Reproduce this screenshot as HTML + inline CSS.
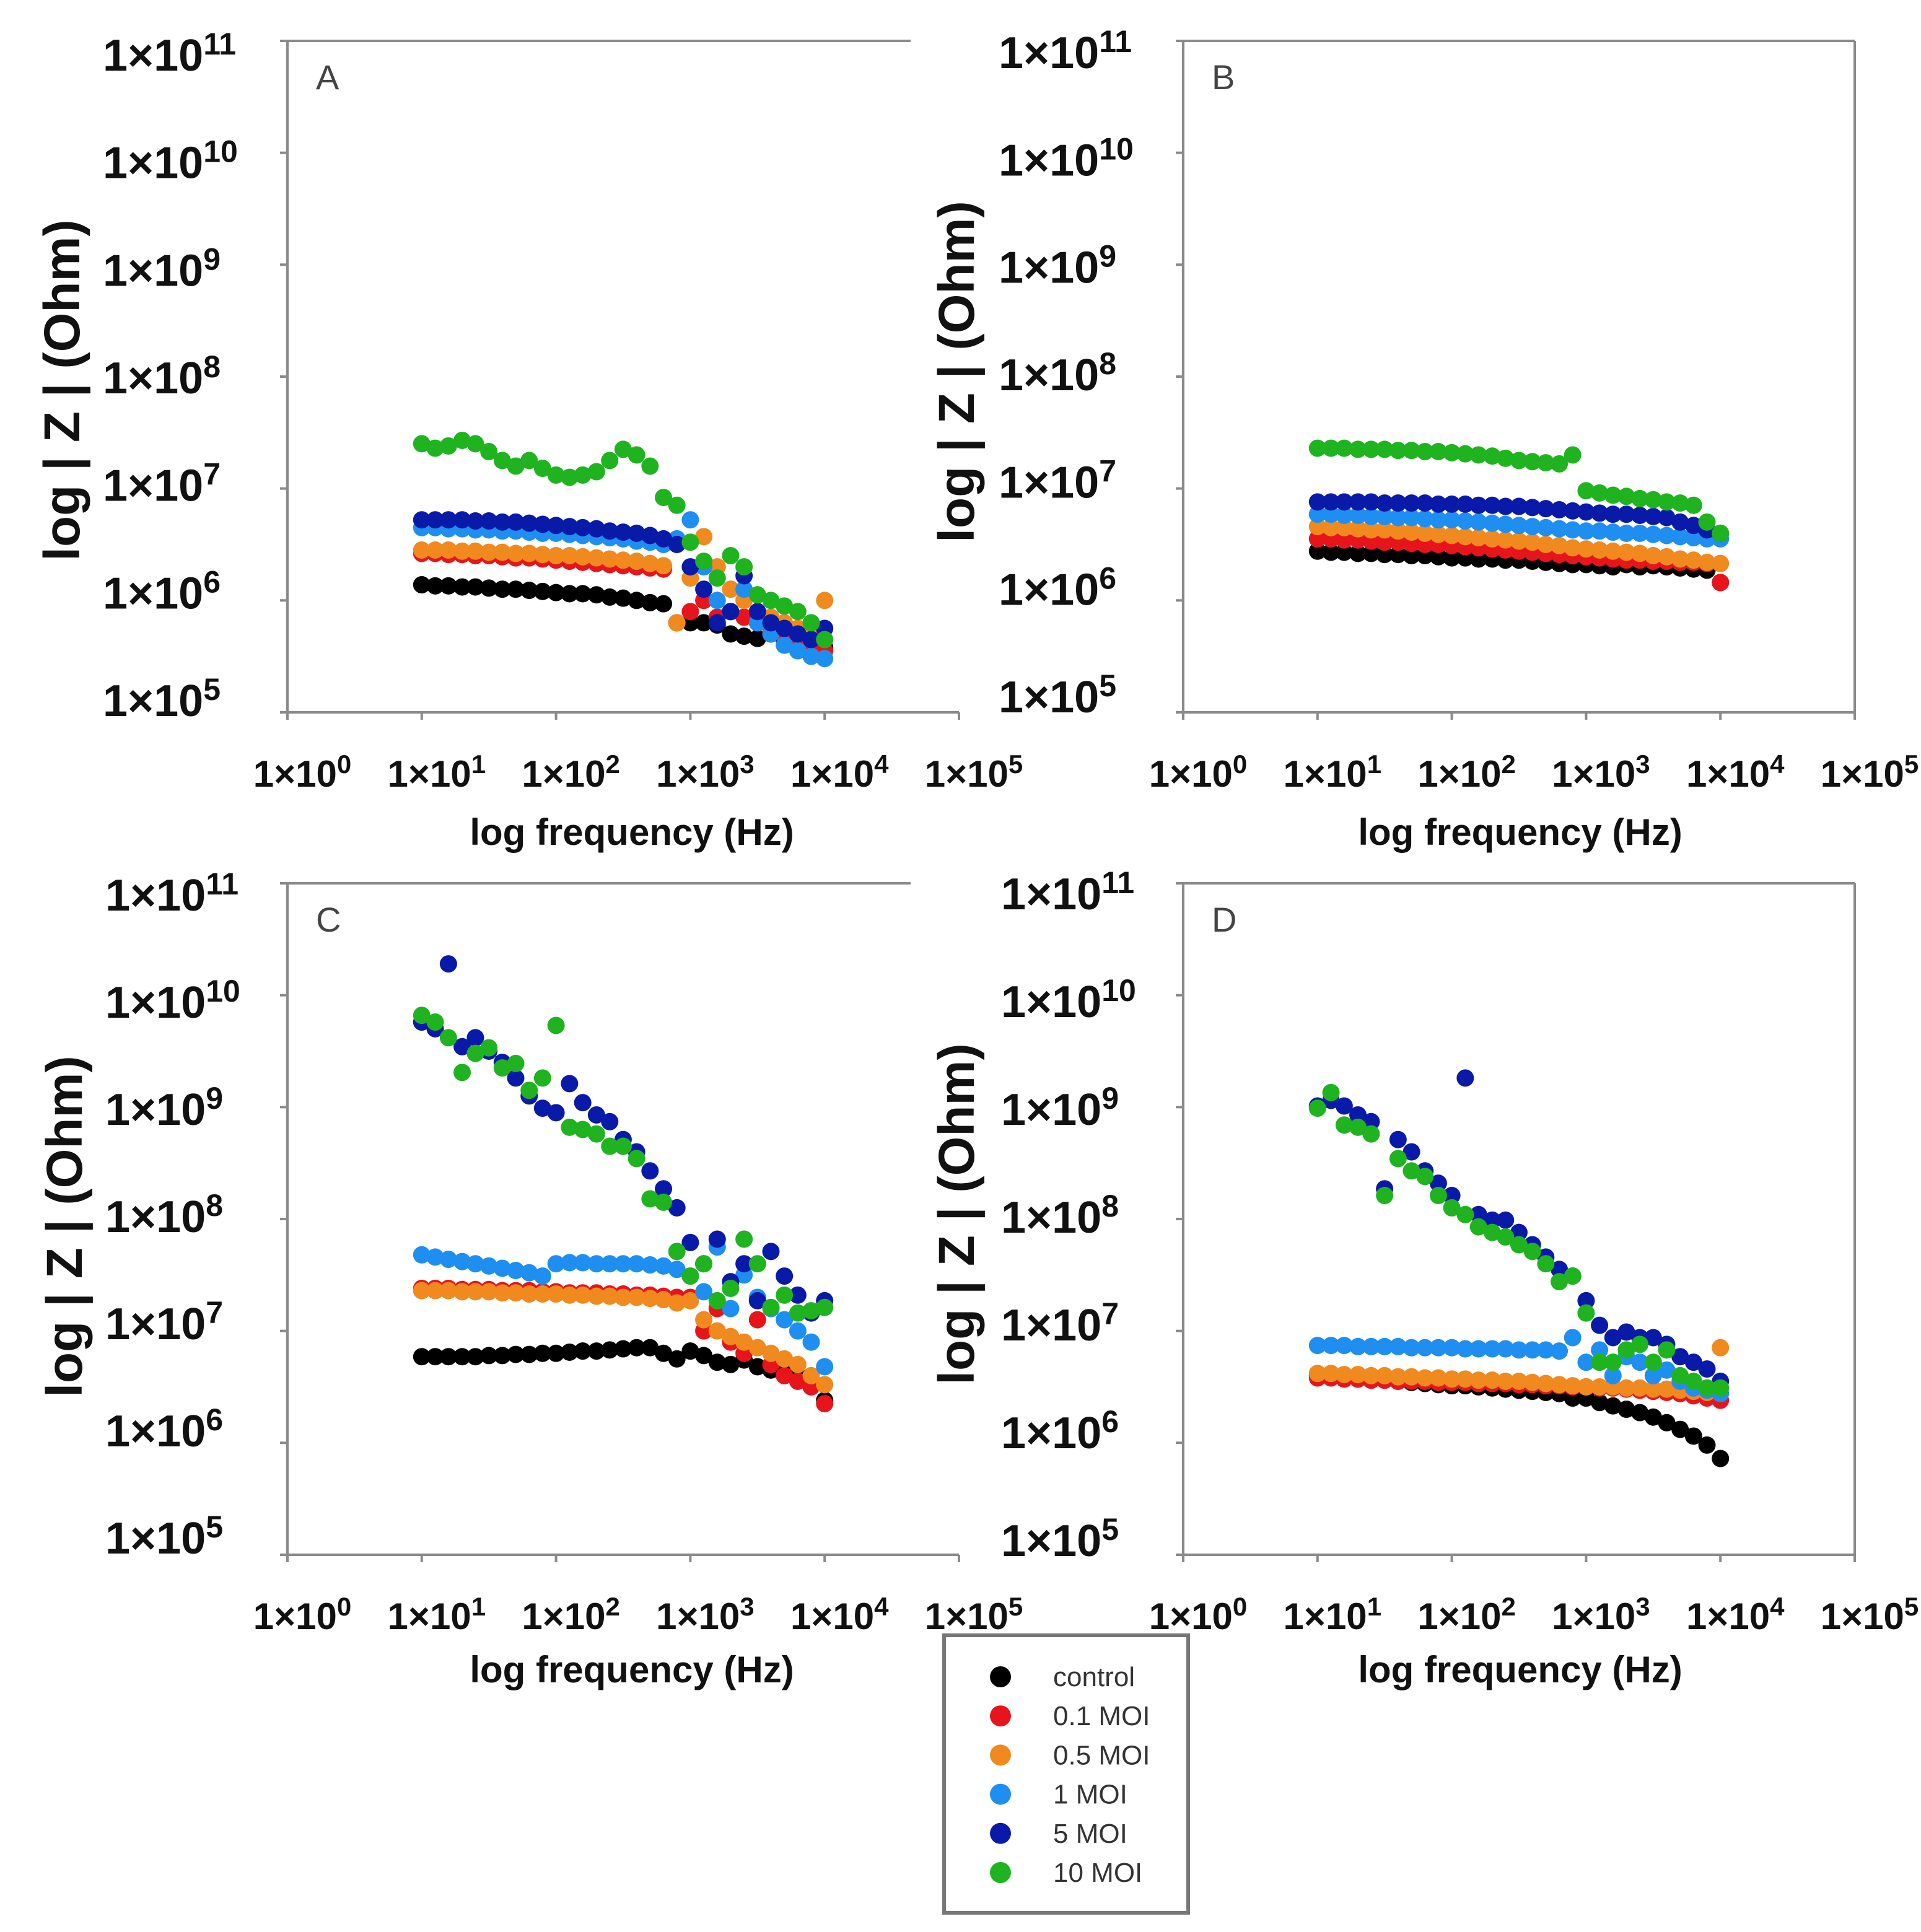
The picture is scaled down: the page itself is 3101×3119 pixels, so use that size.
<!DOCTYPE html>
<html><head><meta charset="utf-8"><style>
html,body{margin:0;padding:0;background:#fff;}
svg{display:block;}
text{font-family:"Liberation Sans","DejaVu Sans",sans-serif;}
.tk{font-weight:bold;font-size:36px;fill:#111;}
.tx{font-weight:bold;font-size:30px;fill:#111;}
.tt{font-weight:bold;font-size:30px;fill:#111;}
.yt{font-weight:bold;font-size:41px;fill:#111;}
</style></head><body>
<svg id="fig" width="3101" height="3119" viewBox="0 0 1550.5 1559.5" xmlns="http://www.w3.org/2000/svg"></svg>
<script>
const freqs=[10,12.6,15.8,20,25.1,31.6,39.8,50.1,63.1,79.4,100,126,158,200,251,316,398,501,631,794,1000,1259,1585,1995,2512,3162,3981,5012,6310,7943,10000];
const seriesNames=["control","0.1 MOI","0.5 MOI","1 MOI","5 MOI","10 MOI"];
const seriesColors=["#000000","#e8141b","#f08a1e","#1f8ef1","#0a1aa8","#1fb41f"];
const xTicks=[0,1,2,3,4,5];
const yTicks=[5,6,7,8,9,10,11];
// log10 |Z| values
const aControl=[6.14,6.13,6.13,6.12,6.12,6.11,6.10,6.10,6.09,6.08,6.07,6.06,6.06,6.05,6.03,6.02,6.00,5.98,5.97,5.80,5.80,5.80,5.78,5.70,5.68,5.66,5.70,5.65,5.62,5.60,5.58];
const aR01=[6.42,6.42,6.41,6.41,6.40,6.40,6.39,6.38,6.38,6.37,6.36,6.35,6.34,6.33,6.32,6.31,6.30,6.29,6.28,5.80,5.90,6.00,5.85,5.90,5.85,5.80,5.75,5.70,5.65,5.60,5.55];
const aR05=[6.45,6.45,6.45,6.44,6.44,6.43,6.43,6.42,6.42,6.41,6.40,6.40,6.39,6.38,6.37,6.36,6.35,6.33,6.31,5.80,6.20,6.57,6.30,6.10,6.00,5.90,5.85,5.80,5.75,5.70,6.00];
const aR1=[6.65,6.65,6.64,6.64,6.63,6.63,6.62,6.62,6.61,6.60,6.60,6.59,6.58,6.57,6.56,6.55,6.53,6.52,6.50,6.55,6.72,6.30,6.00,5.90,6.10,5.80,5.70,5.60,5.55,5.50,5.48];
const aR5=[6.72,6.72,6.72,6.72,6.71,6.71,6.70,6.70,6.69,6.68,6.67,6.66,6.65,6.64,6.62,6.61,6.60,6.58,6.55,6.50,6.30,6.10,5.80,5.90,6.22,5.90,5.80,5.75,5.70,5.65,5.75];
const aR10=[7.40,7.36,7.38,7.43,7.40,7.33,7.25,7.20,7.25,7.18,7.12,7.10,7.12,7.15,7.25,7.35,7.30,7.20,6.92,6.85,6.52,6.35,6.20,6.40,6.30,6.05,6.00,5.95,5.90,5.80,5.65];
const bControl=[6.44,6.43,6.43,6.42,6.42,6.41,6.41,6.40,6.40,6.39,6.38,6.38,6.37,6.37,6.36,6.36,6.35,6.34,6.33,6.32,6.32,6.31,6.30,6.32,6.30,6.31,6.30,6.29,6.28,6.27,6.16];
const bR01=[6.55,6.55,6.54,6.54,6.53,6.52,6.52,6.51,6.50,6.50,6.49,6.48,6.47,6.46,6.45,6.44,6.43,6.42,6.41,6.40,6.39,6.38,6.37,6.36,6.36,6.35,6.35,6.34,6.34,6.33,6.16];
const bR05=[6.66,6.65,6.65,6.64,6.63,6.63,6.62,6.61,6.60,6.59,6.58,6.57,6.56,6.55,6.54,6.53,6.52,6.50,6.49,6.47,6.46,6.45,6.44,6.43,6.42,6.40,6.39,6.37,6.36,6.34,6.33];
const bR1=[6.77,6.77,6.76,6.76,6.75,6.75,6.74,6.74,6.73,6.72,6.72,6.71,6.70,6.69,6.68,6.67,6.66,6.65,6.64,6.63,6.62,6.62,6.61,6.60,6.60,6.59,6.58,6.57,6.56,6.55,6.55];
const bR5=[6.88,6.88,6.88,6.88,6.88,6.87,6.87,6.87,6.87,6.86,6.86,6.86,6.85,6.85,6.84,6.84,6.83,6.82,6.81,6.80,6.79,6.78,6.77,6.77,6.76,6.75,6.74,6.70,6.67,6.63,6.60];
const bR10=[7.36,7.36,7.36,7.35,7.35,7.35,7.34,7.34,7.33,7.33,7.32,7.31,7.30,7.29,7.27,7.25,7.24,7.23,7.22,7.30,6.98,6.96,6.94,6.93,6.91,6.90,6.88,6.87,6.85,6.70,6.60];
const cControl=[6.77,6.77,6.77,6.77,6.77,6.78,6.78,6.79,6.79,6.80,6.80,6.81,6.82,6.82,6.83,6.84,6.85,6.85,6.80,6.75,6.82,6.78,6.72,6.70,6.74,6.68,6.65,6.62,6.60,6.55,6.38];
const cR01=[7.38,7.38,7.38,7.37,7.37,7.37,7.36,7.36,7.36,7.35,7.35,7.34,7.34,7.34,7.33,7.33,7.32,7.32,7.31,7.30,7.30,7.00,7.20,6.90,6.80,7.10,6.70,6.60,6.55,6.50,6.35];
const cR05=[7.36,7.36,7.36,7.35,7.35,7.35,7.34,7.34,7.33,7.33,7.33,7.32,7.32,7.31,7.31,7.30,7.30,7.29,7.28,7.25,7.27,7.10,7.00,6.95,6.90,6.85,6.80,6.75,6.70,6.60,6.52];
const cR1=[7.68,7.66,7.64,7.62,7.60,7.58,7.56,7.54,7.52,7.49,7.60,7.61,7.61,7.60,7.60,7.60,7.60,7.59,7.58,7.55,7.49,7.35,7.75,7.20,7.50,7.30,7.20,7.10,7.00,6.90,6.68];
const cR5=[9.76,9.70,10.28,9.54,9.62,9.50,9.40,9.26,9.10,8.99,8.95,9.21,9.04,8.93,8.87,8.71,8.60,8.43,8.27,8.10,7.79,7.60,7.82,7.44,7.60,7.27,7.71,7.49,7.32,7.16,7.27];
const cR10=[9.82,9.76,9.62,9.31,9.48,9.53,9.35,9.39,9.15,9.26,9.73,8.82,8.80,8.76,8.65,8.65,8.54,8.18,8.15,7.71,7.49,7.60,7.27,7.38,7.82,7.60,7.21,7.32,7.16,7.18,7.21];
const dControl=[6.60,6.59,6.58,6.57,6.56,6.56,6.55,6.54,6.53,6.52,6.51,6.51,6.50,6.49,6.48,6.47,6.46,6.45,6.44,6.40,6.40,6.36,6.33,6.30,6.27,6.23,6.18,6.12,6.06,5.98,5.86];
const dR01=[6.58,6.58,6.57,6.57,6.56,6.56,6.55,6.55,6.55,6.54,6.54,6.54,6.53,6.53,6.53,6.52,6.52,6.51,6.51,6.50,6.50,6.49,6.49,6.48,6.47,6.46,6.45,6.44,6.42,6.40,6.38];
const dR05=[6.62,6.62,6.61,6.61,6.60,6.60,6.59,6.59,6.58,6.58,6.57,6.57,6.56,6.56,6.55,6.55,6.54,6.53,6.52,6.51,6.50,6.50,6.50,6.49,6.49,6.48,6.48,6.47,6.46,6.45,6.85];
const dR1=[6.87,6.87,6.87,6.86,6.86,6.86,6.86,6.85,6.85,6.85,6.85,6.84,6.84,6.84,6.84,6.83,6.83,6.83,6.82,6.94,6.72,6.83,6.60,6.77,6.72,6.60,6.65,6.55,6.49,6.47,6.44];
const dR5=[9.01,9.06,9.01,8.93,8.87,8.27,8.71,8.60,8.43,8.32,8.21,9.26,8.04,7.99,7.99,7.88,7.77,7.66,7.55,7.49,7.27,7.05,6.94,6.99,6.94,6.94,6.88,6.77,6.72,6.66,6.55];
const dR10=[8.99,9.13,8.84,8.82,8.76,8.21,8.54,8.43,8.38,8.21,8.10,8.04,7.93,7.88,7.84,7.77,7.71,7.60,7.44,7.49,7.16,6.72,6.72,6.83,6.88,6.72,6.83,6.60,6.55,6.49,6.49];

const NS="http://www.w3.org/2000/svg";
const svg=document.getElementById('fig');
function mk(tag,attrs,parent){const e=document.createElementNS(NS,tag);for(const k in attrs)e.setAttribute(k,attrs[k]);(parent||svg).appendChild(e);return e;}
const panels=[
 {id:"a",L:"A",x0:232,y0:33,box:false,lx:83,ly0:45,ly1:566,tx:510,ty:672,yx:50,yy:315,data:[aControl,aR01,aR05,aR1,aR5,aR10]},
 {id:"b",L:"B",x0:955,y0:33,box:true,lx:806,ly0:43,ly1:563,tx:1227,ty:672,yx:772,yy:300,data:[bControl,bR01,bR05,bR1,bR5,bR10]},
 {id:"c",L:"C",x0:232,y0:713,box:false,lx:85,ly0:723,ly1:1242,tx:510,ty:1348,yx:52,yy:990,data:[cControl,cR01,cR05,cR1,cR5,cR10]},
 {id:"d",L:"D",x0:955,y0:713,box:true,lx:808,ly0:722,ly1:1244,tx:1227,ty:1348,yx:772,yy:980,data:[dControl,dR01,dR05,dR1,dR5,dR10]}
];
const DX=108.4, DY=90.33;
panels.forEach(p=>{
 const g=mk('g',{});
 
 
 const xs=v=>p.x0+DX*v;
 const ys=v=>p.y0+DY*(11-v);
 const bot=ys(5), right=xs(5);
 const ya=mk('line',{x1:p.x0,y1:p.y0,x2:p.x0,y2:bot,stroke:'#8a8a8a','stroke-width':2},g);
 
 
 const xa=mk('line',{x1:p.x0-6,y1:bot,x2:right,y2:bot,stroke:'#8a8a8a','stroke-width':2},g);
 
 
 if(p.box){
  mk('line',{x1:p.x0,y1:p.y0,x2:right,y2:p.y0,stroke:'#8a8a8a','stroke-width':2},g);
  mk('line',{x1:right,y1:p.y0,x2:right,y2:bot,stroke:'#8a8a8a','stroke-width':2},g);
 } else {
  mk('line',{x1:p.x0,y1:p.y0,x2:p.x0+503,y2:p.y0,stroke:'#8a8a8a','stroke-width':2},g);
 }
 yTicks.forEach((t,i)=>{
  mk('line',{x1:p.x0-6,y1:ys(t),x2:p.x0,y2:ys(t),stroke:'#8a8a8a','stroke-width':2},g);
  const ly=p.ly1-(p.ly1-p.ly0)*(i/(yTicks.length-1));
  const tx=mk('text',{x:p.lx,y:ly+12,class:'tk'},g);
  
  
  tx.innerHTML='1×10<tspan dy="-13" font-size="25">'+t+'</tspan>';
 });
 xTicks.forEach(t=>{
  mk('line',{x1:xs(t),y1:bot,x2:xs(t),y2:bot+6,stroke:'#8a8a8a','stroke-width':2},g);
  const tx=mk('text',{x:xs(t)+12,y:bot+60,class:'tx','text-anchor':'middle'},g);
  
  
  tx.innerHTML='1×10<tspan dy="-11" font-size="21">'+t+'</tspan>';
 });
 const xt=mk('text',{x:p.tx,y:p.ty+10,class:'tt','text-anchor':'middle'},g);
 
 
 xt.textContent='log frequency (Hz)';
 const yt=mk('text',{x:0,y:0,class:'yt','text-anchor':'middle',transform:`translate(${p.yx+14},${p.yy}) rotate(-90)`},g);
 
 
 yt.textContent='log | Z |  (Ohm)';
 const lt=mk('text',{x:p.x0+23,y:p.y0+39,'font-size':28,fill:'#444'},g);
 
 
 lt.textContent=p.L;
 p.data.forEach((arr,si)=>{
  arr.forEach((v,i)=>{
   const c=mk('circle',{cx:xs(Math.log10(freqs[i])),cy:ys(v),r:7,fill:seriesColors[si]},g);
   
   
  });
 });
});
const lg=mk('g',{});


mk('rect',{x:762,y:1320,width:197,height:224,fill:'#fff',stroke:'#777','stroke-width':3},lg);
seriesNames.forEach((n,i)=>{
 const e=mk('g',{},lg);
 
 
 mk('circle',{cx:807.5,cy:1353.5+31.6*i,r:8.5,fill:seriesColors[i]},e);
 const t=mk('text',{x:850,y:1361+31.6*i,'font-size':22,fill:'#333'},e);
 t.textContent=n;
});
</script>
</body></html>
